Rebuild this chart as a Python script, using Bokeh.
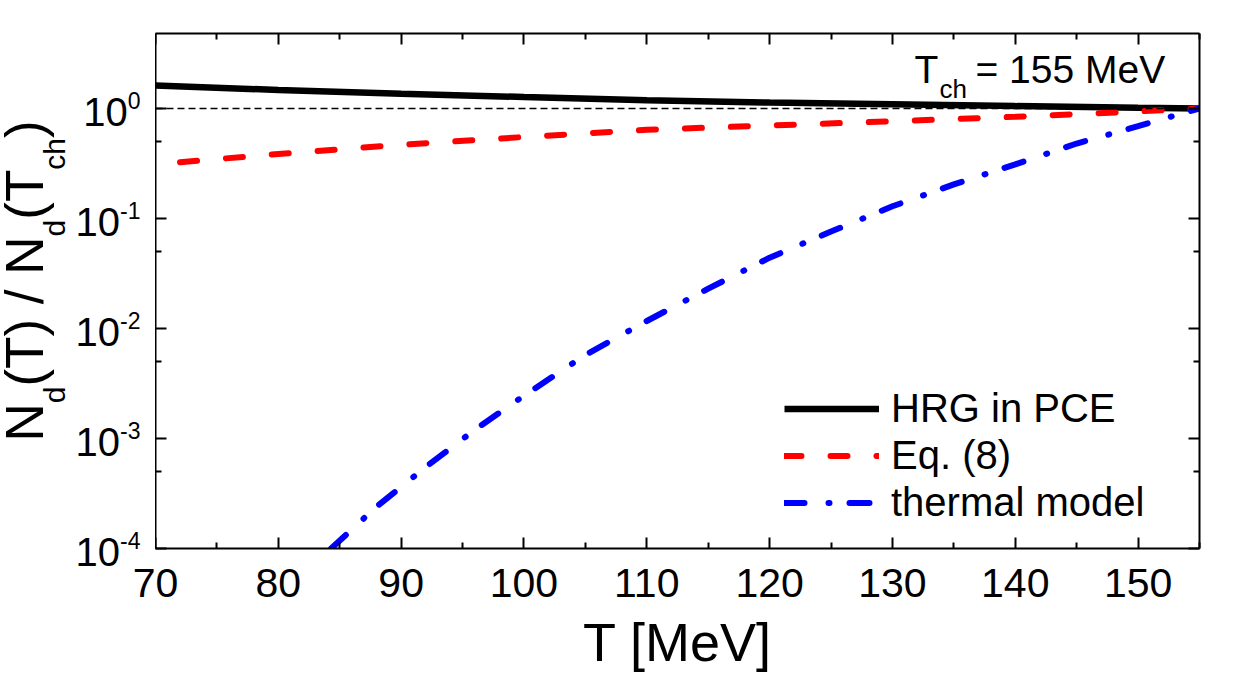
import math
from bokeh.plotting import figure
from bokeh.layouts import row, column
from bokeh.models import (FixedTicker, LinearAxis, LogAxis, Label, Legend,
                          LegendItem, Span, CustomJSTickFormatter)
from bokeh.embed import file_html
from bokeh.resources import INLINE

# Deuteron yield ratio N_d(T) / N_d(T_ch) versus temperature T [MeV]
t_hrg = [70, 80, 90, 100, 110, 120, 130, 140, 150, 155]
n_hrg = [1.62, 1.47, 1.36, 1.27, 1.19, 1.13, 1.09, 1.05, 1.015, 1.0]

t_eq8 = [72, 80, 90, 100, 110, 120, 130, 140, 150, 155]
n_eq8 = [0.325, 0.385, 0.468, 0.55, 0.64, 0.70, 0.765, 0.84, 0.94, 1.0]

t_thermal = [84.3, 88, 92, 96, 100, 105, 110, 115, 120, 125, 130, 135, 140, 145, 150, 155]
n_thermal = [1.0e-4, 2.4e-4, 5.5e-4, 1.2e-3, 2.45e-3, 5.75e-3, 1.17e-2, 2.3e-2,
             4.4e-2, 7.6e-2, 0.129, 0.204, 0.31, 0.48, 0.69, 1.0]

x_ticks = [70, 80, 90, 100, 110, 120, 130, 140, 150]
x_minor = [75, 85, 95, 105, 115, 125, 135, 145, 155]
y_exponents = [-4, -3, -2, -1, 0]
y_minor = [5e-5, 5e-4, 5e-3, 5e-2, 0.5, 5.0]

X_RANGE = (70, 155)
Y_RANGE = (1e-4, 4.8)

FONT = "Liberation Sans"
W, H = 1242, 673
LEFT, RIGHT, TOP = 155, 43, 33
FRAME_BOTTOM = 548          # px from top where the x axis sits
GAP = 18                    # strip under the axis kept in the upper row
UPPER_H = FRAME_BOTTOM + GAP
LOWER_H = H - UPPER_H
FRAME_W = W - LEFT - RIGHT
FRAME_H = FRAME_BOTTOM - TOP


def mid_off(size):
    """Distance from the baseline up to the centre line of a text box."""
    return 0.347 * size


def bare(fig):
    fig.grid.visible = False
    fig.outline_line_color = None
    fig.background_fill_color = "white"
    fig.border_fill_color = "white"
    fig.frame_align = False


# ---------------------------------------------------------------- main plot
p = figure(width=W - LEFT, height=UPPER_H, x_range=X_RANGE, y_range=Y_RANGE,
           y_axis_type="log", output_backend="svg", toolbar_location=None,
           min_border_left=0, min_border_right=RIGHT,
           min_border_top=TOP, min_border_bottom=GAP)
bare(p)

blank = CustomJSTickFormatter(code="return ''")


def style_axis(ax):
    ax.axis_line_width = 2
    ax.axis_line_color = "black"
    ax.major_tick_line_width = 2
    ax.minor_tick_line_width = 2
    ax.major_tick_in = 11
    ax.major_tick_out = 0
    ax.minor_tick_in = 6
    ax.minor_tick_out = 0
    ax.major_label_text_font = FONT
    ax.major_label_text_font_size = "20px"
    ax.major_label_standoff = 0
    ax.formatter = blank


xt = FixedTicker(ticks=x_ticks, minor_ticks=x_minor)
yt = FixedTicker(ticks=[10.0 ** e for e in y_exponents], minor_ticks=y_minor)

p.xaxis.ticker = xt
p.yaxis.ticker = yt
style_axis(p.xaxis[0])
style_axis(p.yaxis[0])

top_ax = LinearAxis(ticker=xt)
style_axis(top_ax)
p.add_layout(top_ax, "above")
right_ax = LogAxis(ticker=yt)
style_axis(right_ax)
p.add_layout(right_ax, "right")

# reference level N_d(T) = N_d(T_ch)
p.add_layout(Span(location=1.0, dimension="width", line_color="black",
                  line_width=1.5, line_dash="7 4"))

r_hrg = p.line(t_hrg, n_hrg, line_color="black", line_width=6.5)
r_eq8 = p.line(t_eq8, n_eq8, line_color="#ff0000", line_width=6,
               line_dash="17 29", line_cap="round")
r_th = p.line(t_thermal, n_thermal, line_color="#0000ff", line_width=6,
              line_dash="20 24 1 20", line_cap="round")

legend = Legend(items=[LegendItem(label="HRG in PCE", renderers=[r_hrg]),
                       LegendItem(label="Eq. (8)", renderers=[r_eq8]),
                       LegendItem(label="thermal model", renderers=[r_th])],
                location=(629, 21 + GAP - 17), glyph_width=95, glyph_height=47,
                label_height=47, label_standoff=12, spacing=0, padding=10,
                margin=0, border_line_color=None, background_fill_alpha=0,
                label_text_font=FONT, label_text_font_size="40px",
                label_text_color="black")
p.add_layout(legend)


# chemical freeze-out temperature annotation (frame-relative px)
def fx(px):
    return px - LEFT


def fy(py):
    return FRAME_BOTTOM - py


for txt, px, base, size in [("T", 914, 83, 39), ("ch", 939, 98, 26),
                            ("= 155 MeV", 975, 83, 39)]:
    p.add_layout(Label(x=fx(px), y=fy(base - mid_off(size)), x_units="screen",
                       y_units="screen", text=txt, text_font=FONT,
                       text_font_size=f"{size}px", text_baseline="middle",
                       text_color="black"))

# ------------------------------------------- left strip: y ticks and title
per_px_y = (math.log10(Y_RANGE[1]) - math.log10(Y_RANGE[0])) / FRAME_H
lo = math.log10(Y_RANGE[0]) - GAP * per_px_y
hi = math.log10(Y_RANGE[1]) + TOP * per_px_y

lf = figure(width=LEFT, height=UPPER_H, x_range=(0, LEFT),
            y_range=(10 ** lo, 10 ** hi), y_axis_type="log",
            output_backend="svg", toolbar_location=None, min_border=0,
            x_axis_location=None, y_axis_location=None)
bare(lf)

sup_size = 23
for e in y_exponents:
    sup = str(e)
    supw = sum(0.333 if ch == "-" else 0.556 for ch in sup) * sup_size
    lf.add_layout(Label(x=140 - supw, y=10.0 ** e, text="10",
                        text_align="right", text_baseline="middle",
                        y_offset=-(17 - mid_off(40)), text_font=FONT,
                        text_font_size="40px", text_color="black"))
    lf.add_layout(Label(x=140 - supw, y=10.0 ** e, text=sup,
                        text_align="left", text_baseline="middle",
                        y_offset=mid_off(sup_size), text_font=FONT,
                        text_font_size=f"{sup_size}px", text_color="black"))

# N_d(T) / N_d(T_ch), rotated, assembled piece by piece
MAIN, SUB = 53, 30
pieces = [("N", False), ("d", True), ("(T) / N", False), ("d", True),
          ("(T", False), ("ch", True), (")", False)]
adv = {"N": 0.722, "d": 0.556, "(": 0.333, ")": 0.333, "T": 0.611,
       " ": 0.278, "/": 0.278, "c": 0.5, "h": 0.556}
pos = 441
for txt, is_sub in pieces:
    size = SUB if is_sub else MAIN
    base_x = 64 if is_sub else 42
    lf.add_layout(Label(x=base_x - mid_off(size), y=UPPER_H - pos,
                        y_units="screen", text=txt, angle=math.pi / 2,
                        text_align="left", text_baseline="middle",
                        text_font=FONT, text_font_size=f"{size}px",
                        text_color="black"))
    pos -= sum(adv[c] for c in txt) * size

# ------------------------------------ bottom strip: x ticks and axis title
per_px_x = (X_RANGE[1] - X_RANGE[0]) / FRAME_W
bf = figure(width=W, height=LOWER_H,
            x_range=(X_RANGE[0] - LEFT * per_px_x, X_RANGE[1] + RIGHT * per_px_x),
            y_range=(0, LOWER_H), output_backend="svg", toolbar_location=None,
            min_border=0, x_axis_location=None, y_axis_location=None)
bare(bf)

tick_size = 41
for t in x_ticks:
    bf.add_layout(Label(x=t, y=LOWER_H - (597 - UPPER_H) + mid_off(tick_size),
                        y_units="screen", text=str(t), text_align="center",
                        text_baseline="middle", text_font=FONT,
                        text_font_size=f"{tick_size}px", text_color="black"))

bf.add_layout(Label(x=(X_RANGE[0] + X_RANGE[1]) / 2,
                    y=LOWER_H - (660 - UPPER_H) + mid_off(54),
                    y_units="screen", text="T [MeV]", text_align="center",
                    text_baseline="middle", text_font=FONT,
                    text_font_size="54px", text_color="black"))

layout = column(row(lf, p, spacing=0), bf, spacing=0)
open("out.html", "w").write(file_html(layout, INLINE))
